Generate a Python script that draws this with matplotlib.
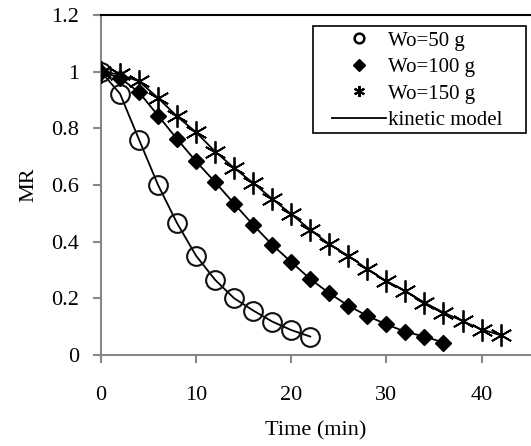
import numpy as np
import matplotlib
matplotlib.use("Agg")
import matplotlib.pyplot as plt
from matplotlib.patches import Rectangle

plt.rcParams['font.family'] = ['Liberation Serif', 'DejaVu Serif']

# drying time (min)
t50 = [0, 2, 4, 6, 8, 10, 12, 14, 16, 18, 20, 22]
t100 = [0, 2, 4, 6, 8, 10, 12, 14, 16, 18, 20, 22, 24, 26, 28, 30, 32, 34, 36]
t150 = [0, 2, 4, 6, 8, 10, 12, 14, 16, 18, 20, 22, 24, 26, 28, 30, 32, 34, 36,
        38, 40, 42]

# moisture ratio
mr50 = [1.0, 0.922, 0.76, 0.60, 0.465, 0.35, 0.265, 0.20, 0.157, 0.118, 0.088, 0.065]
mr100 = [1.0, 0.978, 0.927, 0.845, 0.762, 0.683, 0.61, 0.534, 0.459, 0.389,
         0.328, 0.268, 0.218, 0.174, 0.138, 0.108, 0.082, 0.065, 0.044]
mr150 = [1.0, 0.99, 0.966, 0.907, 0.842, 0.786, 0.718, 0.66, 0.607, 0.551,
         0.497, 0.442, 0.391, 0.35, 0.303, 0.261, 0.226, 0.185, 0.15, 0.12,
         0.09, 0.07]

fig = plt.figure(figsize=(5.31, 4.46), dpi=100)
ax = fig.add_axes([101/531, 1-355/446, 430/531, 340/446])

# kinetic model lines
for t, m in [(t50, mr50), (t100, mr100), (t150, mr150)]:
    ax.plot(t, m, '-', color='black', lw=1.3, zorder=2)

ax.plot(t50, mr50, 'o', ms=13.5, mfc='none', mec='#111111', mew=1.5, ls='none', zorder=3)
ax.plot(t100, mr100, 'D', ms=8.5, color='black', ls='none', zorder=3)
ax.plot(t150, mr150, marker=(6, 2, 0), ms=16, color='black', mew=1.3, ls='none', zorder=3)

# legend entries
h1, = ax.plot([], [], 'o', ms=7, mfc='none', mec='black', mew=1.8, ls='none')
h2, = ax.plot([], [], 'D', ms=6, color='black', ls='none')
h3, = ax.plot([], [], marker=(6, 2, 0), ms=8, color='black', mew=1.5, ls='none')
h4, = ax.plot([], [], '-', color='black', lw=1.3)
leg = ax.legend([h1, h2, h3, h4], ['Wo=50 g', 'Wo=100 g', 'Wo=150 g', 'kinetic model'],
                loc='upper left', bbox_to_anchor=(228/430, 1-13/340), fontsize=15,
                frameon=False, borderpad=0.15,
                labelspacing=0.33, handlelength=2.6, handletextpad=0.1,
                borderaxespad=0)
# legend box (wider side padding than matplotlib's uniform borderpad)
ax.add_patch(Rectangle((212/430, 1-118/340), 213/430, 107/340, transform=ax.transAxes,
                       fill=False, edgecolor='black', lw=1.2, zorder=5, clip_on=False))

ax.set_xlim(0, 45.2)
ax.set_ylim(0, 1.2)
ax.set_xticks([0, 10, 20, 30, 40])
ax.set_yticks([0, 0.2, 0.4, 0.6, 0.8, 1.0, 1.2])
ax.set_yticklabels(['0', '0.2', '0.4', '0.6', '0.8', '1', '1.2'])

for s in ['left', 'bottom']:
    ax.spines[s].set_color('#888888')
    ax.spines[s].set_linewidth(1.5)
ax.spines['right'].set_visible(False)
ax.spines['top'].set_color('black')
ax.spines['top'].set_linewidth(1.5)
ax.tick_params(direction='out', length=6, width=1.5, color='#888888',
               labelsize=16)
ax.tick_params(axis='x', pad=16)
ax.tick_params(axis='y', pad=10)

ax.set_xlabel('Time (min)', fontsize=16, labelpad=12)
ax.set_ylabel('MR', fontsize=16, labelpad=9)

fig.savefig('out.png', dpi=100)
